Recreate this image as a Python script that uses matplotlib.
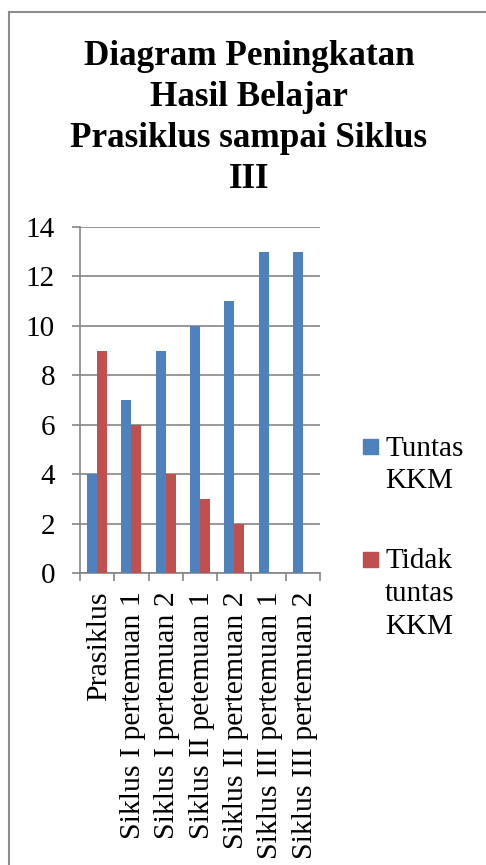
import matplotlib
matplotlib.use("Agg")
import matplotlib.pyplot as plt
from matplotlib.patches import Rectangle
from matplotlib.lines import Line2D
import numpy as np

categories = ["Prasiklus", "Siklus I pertemuan 1", "Siklus I pertemuan 2",
              "Siklus II petemuan 1", "Siklus II pertemuan 2",
              "Siklus III pertemuan 1", "Siklus III pertemuan 2"]
tuntas = [4, 7, 9, 10, 11, 13, 13]
tidak_tuntas = [9, 6, 4, 3, 2, 0, 0]
series_names = ["Tuntas\nKKM", "Tidak\ntuntas\nKKM"]
title_lines = ["Diagram Peningkatan", "Hasil Belajar", "Prasiklus sampai Siklus", "III"]
yticks = [0, 2, 4, 6, 8, 10, 12, 14]

BLUE = "#4F81BD"
RED = "#C0504D"
GRID = "#868686"
FONT = "Liberation Serif"

W, H = 486, 865
fig = plt.figure(figsize=(W / 100, H / 100), dpi=100)
plt.rcParams["font.family"] = FONT

def fx(px):
    return px / W

def fy(py):
    return 1 - py / H

# figure border (left and top)
fig.add_artist(Line2D([fx(8.5), fx(8.5)], [fy(11.5), 0], color="#8C8C8C", lw=1.5, transform=fig.transFigure))
fig.add_artist(Line2D([fx(8.5), 1], [fy(11.5), fy(11.5)], color="#8C8C8C", lw=1.5, transform=fig.transFigure))

# title
for i, line in enumerate(title_lines):
    fig.text(fx(249), fy(65 + 41 * i), line, ha="center", va="baseline",
             fontsize=25.3, fontweight="bold", family=FONT)

ax = fig.add_axes([fx(80), fy(573), fx(320) - fx(80), fy(227) - fy(573)])
x = np.arange(len(categories))
bw = 0.29
ax.bar(x - bw / 2, tuntas, width=bw, color=BLUE, zorder=3)
ax.bar(x + bw / 2, tidak_tuntas, width=bw, color=RED, zorder=3)

ax.set_xlim(-0.5, len(categories) - 0.5)
ax.set_ylim(0, 14)
ax.set_yticks(yticks)
ax.set_yticklabels([str(v) for v in yticks], fontsize=21, family=FONT)
ax.yaxis.grid(True, color=GRID, lw=1.2, zorder=0)
ax.set_axisbelow(True)

ax.set_xticks(np.arange(-0.5, len(categories), 1.0))
ax.set_xticklabels([])
ax.set_xticks(x + 0.05, minor=True)
ax.set_xticklabels(categories, minor=True, rotation=90, fontsize=21.5, family=FONT,
                   va="top", ha="center")
ax.tick_params(axis="x", which="minor", length=0, pad=13)
ax.tick_params(axis="x", which="major", length=6, width=1.2, color=GRID)
ax.tick_params(axis="y", length=6, width=1.2, color=GRID, pad=12)

for s in ["top", "right"]:
    ax.spines[s].set_visible(False)
for s in ["left", "bottom"]:
    ax.spines[s].set_color(GRID)
    ax.spines[s].set_linewidth(1.2)

# legend
legend_items = [(BLUE, series_names[0], 446.5), (RED, series_names[1], 559)]
for color, name, cy in legend_items:
    fig.add_artist(Rectangle((fx(363), fy(cy + 7.5)), fx(15), 15 / H, color=color,
                             transform=fig.transFigure))
    for j, ln in enumerate(name.split("\n")):
        fig.text(fx(385), fy(cy + 9.5 + 32.5 * j), ln, ha="left", va="baseline",
                 fontsize=21, family=FONT)

fig.savefig("out.png", dpi=100)
